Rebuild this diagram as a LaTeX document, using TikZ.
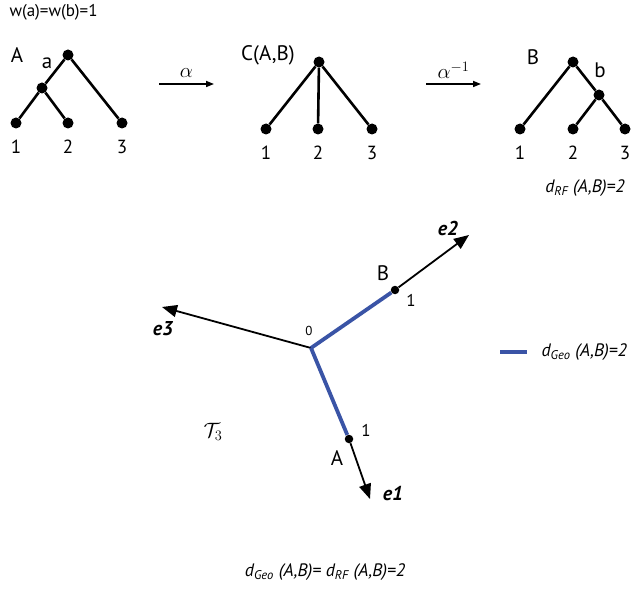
\documentclass[tikz,border=0pt]{standalone}
\usepackage{fontspec}
\setmainfont{PT Sans}
\usetikzlibrary{arrows.meta,positioning}
\definecolor{geoblue}{RGB}{58,84,166}

\begin{document}
\begin{tikzpicture}[x=1pt, y=-1pt,
    dot/.style={circle, fill=black, inner sep=0pt, minimum size=11pt},
    pin/.style={circle, fill=black, inner sep=0pt, minimum size=8.5pt},
    branch/.style={line width=2.6pt},
    ray/.style={line width=1.8pt, -{Triangle[length=15pt, width=12pt]}},
    geo/.style={geoblue, line width=3.8pt},
    map/.style={line width=1.6pt, -{Triangle[length=8pt, width=6pt]}},
    lbl/.style={font=\fontsize{19}{21}\selectfont},
    big/.style={font=\fontsize{21}{23}\selectfont},
    small/.style={font=\fontsize{17}{19}\selectfont},
    dist/.style={font=\fontsize{18}{20}\selectfont\itshape},
    dir/.style={font=\fontsize{20}{22}\selectfont\bfseries\itshape},
    sym/.style={font=\fontsize{22}{24}\selectfont}]
    \useasboundingbox (0,0) rectangle (636,588);
    % weights
    \node[small, anchor=west] (wgt) at (6,12) {w(a)=w(b)=1};
    % tree A
    \node[dot] (rA) at (68,55) {};
    \node[dot] (aA) at (42,88) {};
    \node[dot] (A1) at (16,123) {};
    \node[dot] (A2) at (68,123) {};
    \node[dot] (A3) at (122,123) {};
    \draw[branch] (rA) -- (aA) (aA) -- (A1) (aA) -- (A2) (rA) -- (A3);
    \node[big] (nA) at (17,55) {A};
    \node[big] (na) at (47,63) {a};
    % tree C(A,B)
    \node[dot] (rC) at (319,62) {};
    \node[dot] (C1) at (266,129) {};
    \node[dot] (C2) at (318,129) {};
    \node[dot] (C3) at (372,129) {};
    \draw[branch] (rC) -- (C1) (rC) -- (C2) (rC) -- (C3);
    \node[big] (nC) at (268,55) {C(A,B)};
    % tree B
    \node[dot] (rB) at (573,62) {};
    \node[dot] (bB) at (599,95) {};
    \node[dot] (B1) at (520,129) {};
    \node[dot] (B2) at (573,129) {};
    \node[dot] (B3) at (625,129) {};
    \draw[branch] (rB) -- (B1) (rB) -- (bB) (bB) -- (B2) (bB) -- (B3);
    \node[big] (nB) at (533,57) {B};
    \node[big] (nb) at (600,70) {b};
    % leaf labels
    \foreach \t in {A,C,B}{
      \foreach \k in {1,2,3}{
        \node[lbl, below=8pt of \t\k] {\k};
      }
    }
    \node[dist] (rf) at (585,188) {d\textsubscript{RF} (A,B)=2};
    % maps between trees
    \coordinate (m1s) at (159,84);
    \coordinate (m1e) at (214,84);
    \coordinate (m2s) at (426,84);
    \coordinate (m2e) at (481,84);
    \draw[map] (m1s) -- node[above=2pt, sym] {$\alpha$} (m1e);
    \draw[map] (m2s) -- node[above=1pt, sym] {$\alpha^{-1}$} (m2e);
    % orthants of T3
    \coordinate (O) at (311,348);
    \coordinate (t1) at (370,499);
    \coordinate (t2) at (469,235);
    \coordinate (t3) at (162,307);
    \node[pin] (pA) at (349,439) {};
    \node[pin] (pB) at (395,290) {};
    \draw[ray] (O) -- (t3);
    \draw[ray] (pA) -- (t1);
    \draw[ray] (pB) -- (t2);
    \draw[geo] (O) -- (pA);
    \draw[geo] (O) -- (pB);
    \node[dir] (e1) at (393,494) {e1};
    \node[dir] (e2) at (448,228) {e2};
    \node[dir] (e3) at (163,329) {e3};
    \node[font=\fontsize{13}{15}\selectfont] (n0) at (309,331) {0};
    \node[small] (oA) at (366,430) {1};
    \node[small] (oB) at (411,300) {1};
    \node[big] (lA) at (337,458) {A};
    \node[big] (lB) at (383,273) {B};
    \node[sym] (T3) at (213,432) {$\mathcal{T}_3$};
    % legend
    \coordinate (g1) at (500,352);
    \coordinate (g2) at (527,352);
    \draw[geo] (g1) -- (g2);
    \node[dist, anchor=west] (geo) at (538,352) {d\textsubscript{Geo} (A,B)=2};
    % bottom
    \node[dist] (eq) at (325,572) {d\textsubscript{Geo} (A,B)= d\textsubscript{RF} (A,B)=2};
\end{tikzpicture}
\end{document}
